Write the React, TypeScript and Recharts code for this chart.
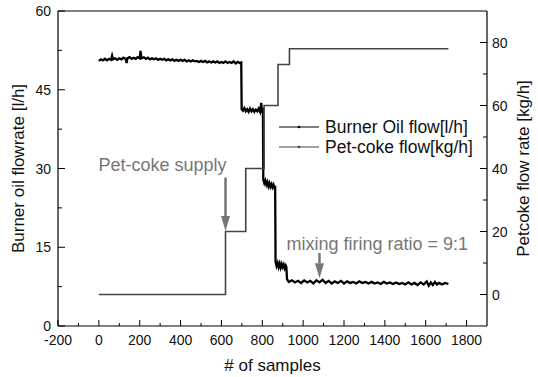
import React from 'react';
import { LineChart, Line, XAxis, YAxis, ReferenceLine, Legend, Label } from 'recharts';

const FONT = '"Liberation Sans", Arial, Helvetica, sans-serif';
const GRAY = '#767676';

// burner oil flow [l/h]: [sample, value]
const oilBase: [number, number][] = [
  [0, 50.5], [10, 50.8], [20, 50.6], [30, 50.9], [40, 50.6], [50, 50.9], [60, 50.7], [65, 51.5], [70, 50.8],
  [80, 51.0], [90, 50.7], [100, 51.0], [110, 50.8], [120, 51.1], [130, 50.9], [136, 50.1], [140, 51.0],
  [150, 51.2], [160, 50.9], [170, 51.1], [180, 50.9], [190, 51.2], [200, 51.0], [204, 52.4], [208, 51.0],
  [220, 51.2], [230, 50.9], [240, 51.1], [250, 50.8], [260, 51.0], [270, 50.8], [280, 51.0], [290, 50.7],
  [300, 50.9], [310, 50.7], [320, 50.9], [330, 50.6], [340, 50.8], [350, 50.6], [360, 50.8], [370, 50.5],
  [380, 50.7], [390, 50.5], [400, 50.7], [410, 50.5], [420, 50.7], [430, 50.4], [440, 50.6], [450, 50.4],
  [460, 50.6], [470, 50.4], [480, 50.5], [490, 50.3], [500, 50.5], [510, 50.3], [520, 50.5], [530, 50.2],
  [540, 50.4], [550, 50.2], [560, 50.4], [570, 50.2], [580, 50.4], [590, 50.1], [600, 50.3], [610, 50.1],
  [620, 50.4], [630, 50.1], [640, 50.3], [650, 50.1], [660, 50.4], [670, 50.0], [680, 50.3], [690, 50.1],
  [697, 50.2],
];
const oilStep1: [number, number][] = [
  [699, 41.3], [705, 41.0], [712, 41.5], [719, 40.9], [726, 41.3], [733, 40.8], [740, 41.4], [747, 40.9],
  [754, 41.3], [761, 40.8], [768, 41.2], [775, 40.9], [782, 41.4], [789, 40.8], [795, 42.5], [798, 41.0],
  [803, 41.2],
];
const oilStep2: [number, number][] = [
  [805, 27.9], [810, 27.2], [815, 27.7], [820, 26.9], [825, 27.4], [830, 26.6], [835, 27.2], [840, 26.5],
  [845, 27.0], [850, 26.4], [855, 26.9], [860, 26.3], [863, 26.7],
];
const oilStep3: [number, number][] = [
  [865, 12.2], [870, 11.4], [875, 12.0], [880, 11.2], [885, 11.9], [890, 11.1], [895, 11.8], [900, 11.2],
  [905, 11.7], [910, 11.0], [915, 11.5], [918, 11.2],
];
const oilMixed: [number, number][] = [
  [921, 8.9], [930, 8.4], [945, 8.7], [960, 8.3], [975, 8.6], [990, 8.2], [1005, 8.7], [1020, 8.3],
  [1035, 8.6], [1050, 8.1], [1065, 8.7], [1080, 8.3], [1095, 8.8], [1110, 8.2], [1125, 8.6], [1140, 8.1],
  [1155, 8.5], [1170, 8.2], [1185, 8.6], [1200, 8.1], [1215, 8.5], [1230, 8.2], [1245, 8.4], [1260, 8.1],
  [1275, 8.5], [1290, 8.2], [1305, 8.4], [1320, 8.1], [1335, 8.4], [1350, 8.1], [1365, 8.3], [1380, 8.0],
  [1395, 8.4], [1410, 8.1], [1425, 8.3], [1440, 8.0], [1455, 8.3], [1470, 8.0], [1485, 8.2], [1500, 7.9],
  [1515, 8.3], [1530, 7.9], [1545, 8.2], [1560, 7.8], [1575, 8.3], [1590, 7.9], [1605, 8.5], [1615, 7.7],
  [1625, 8.3], [1635, 7.8], [1645, 8.4], [1655, 7.9], [1665, 8.2], [1680, 7.9], [1695, 8.2], [1711, 8.0],
];

// pet-coke flow [kg/h] set points: [sample where the step starts, value]
const cokeSteps: [number, number][] = [
  [0, 0], [620, 20], [719, 40], [809, 60], [877, 73], [933, 78], [1711, 78],
];

const xTicks = [-200, -100, 0, 100, 200, 300, 400, 500, 600, 700, 800, 900, 1000, 1100, 1200, 1300, 1400, 1500, 1600, 1700, 1800];
const leftTicks = [0, 7.5, 15, 22.5, 30, 37.5, 45, 52.5, 60];
const rightTicks = [0, 10, 20, 30, 40, 50, 60, 70, 80];

const oilData = [...oilBase, ...oilStep1, ...oilStep2, ...oilStep3, ...oilMixed].map(([x, v]) => ({ x, oil: v }));
const cokeData = cokeSteps.map(([x, v]) => ({ x, coke: v }));

const tickText = { fontSize: 14, fill: '#111', fontFamily: FONT };

const BottomTick = (p: any) => {
  const v = p.payload.value;
  const major = v % 200 === 0;
  return (
    <g>
      <line x1={p.x} x2={p.x} y1={p.y} y2={p.y - (major ? 6 : 3)} stroke="#000" />
      {major && <text x={p.x} y={p.y + 19} textAnchor="middle" {...tickText}>{v}</text>}
    </g>
  );
};

const LeftTick = (p: any) => {
  const v = p.payload.value;
  const major = v % 15 === 0;
  return (
    <g>
      <line x1={p.x} x2={p.x + (major ? 7 : 4)} y1={p.y} y2={p.y} stroke="#000" />
      {major && <text x={p.x - 7} y={p.y + 5} textAnchor="end" {...tickText}>{v}</text>}
    </g>
  );
};

const RightTick = (p: any) => {
  const v = p.payload.value;
  const major = v % 20 === 0;
  return (
    <g>
      <line x1={p.x} x2={p.x - (major ? 7 : 4)} y1={p.y} y2={p.y} stroke="#000" />
      {major && <text x={p.x + 5} y={p.y + 5} textAnchor="start" {...tickText}>{v}</text>}
    </g>
  );
};

const arrow = (text: string, dx: number, dy: number) => (p: any) => {
  const { x1, y1, x2, y2 } = p;
  const head = 15;
  return (
    <g>
      <line x1={x1} y1={y1} x2={x2} y2={y2 - head} stroke={GRAY} strokeWidth={2.5} />
      <polygon points={`${x2 - 4.5},${y2 - head} ${x2 + 4.5},${y2 - head} ${x2},${y2}`} fill={GRAY} />
      <text x={x1 + dx} y={y1 + dy} fontSize={18} fill={GRAY} fontFamily={FONT}>{text}</text>
    </g>
  );
};

const LegendBox = (props: any) => (
  <div style={{ fontFamily: FONT, fontSize: 17.5, color: '#111' }}>
    {(props.payload || []).map((item: any) => (
      <div key={item.value} style={{ display: 'flex', alignItems: 'center', height: 20 }}>
        <svg width={46} height={20}>
          <line x1={0} x2={40} y1={10} y2={10} stroke={item.color} strokeWidth={1.2} />
          <circle cx={20} cy={10} r={1.3} fill={item.color} />
        </svg>
        <span style={{ whiteSpace: 'nowrap', lineHeight: '20px' }}>{item.value}</span>
      </div>
    ))}
  </div>
);

export default function App() {
  return (
    <div style={{ position: 'absolute', left: 0, top: 0, width: 538, height: 377, background: '#fff' }}>
      <LineChart width={538} height={377} margin={{ top: 11, right: 0, bottom: 0, left: 0 }}>
        <XAxis
          dataKey="x"
          type="number"
          domain={[-200, 1900]}
          ticks={xTicks}
          interval={0}
          allowDataOverflow
          height={51}
          tickSize={0}
          tickMargin={0}
          tick={BottomTick}
          axisLine={{ stroke: '#000', strokeWidth: 1.2 }}
        >
          <Label value="# of samples" position="insideBottom" offset={6} style={{ fontSize: 17, fill: '#111', fontFamily: FONT }} />
        </XAxis>
        <YAxis
          yAxisId="l"
          domain={[0, 60]}
          ticks={leftTicks}
          interval={0}
          width={58}
          tickSize={0}
          tickMargin={0}
          tick={LeftTick}
          axisLine={{ stroke: '#000', strokeWidth: 1.2 }}
        >
          <Label
            value="Burner oil flowrate [l/h]"
            angle={-90}
            position="insideLeft"
            offset={18}
            style={{ fontSize: 17, fill: '#111', fontFamily: FONT, textAnchor: 'middle' }}
          />
        </YAxis>
        <YAxis
          yAxisId="r"
          orientation="right"
          domain={[-10, 90]}
          ticks={rightTicks}
          interval={0}
          width={51}
          tickSize={0}
          tickMargin={0}
          tick={RightTick}
          axisLine={{ stroke: '#000', strokeWidth: 1.2 }}
        >
          <Label
            value="Petcoke flow rate [kg/h]"
            angle={-90}
            position="insideRight"
            offset={15}
            style={{ fontSize: 17, fill: '#111', fontFamily: FONT, textAnchor: 'middle' }}
          />
        </YAxis>
        <ReferenceLine yAxisId="l" y={60} stroke="#000" strokeWidth={1.2} />
        <ReferenceLine
          yAxisId="l"
          segment={[{ x: 620, y: 28.3 }, { x: 620, y: 18.1 }]}
          shape={arrow('Pet-coke supply', -127, -6)}
        />
        <ReferenceLine
          yAxisId="l"
          segment={[{ x: 1080, y: 13.9 }, { x: 1080, y: 9.1 }]}
          shape={arrow('mixing firing ratio = 9:1', -33, -3)}
        />
        <Line
          data={oilData}
          dataKey="oil"
          name="Burner Oil flow[l/h]"
          yAxisId="l"
          type="linear"
          stroke="#000"
          strokeWidth={2.3}
          dot={false}
          isAnimationActive={false}
        />
        <Line
          data={cokeData}
          dataKey="coke"
          name="Pet-coke flow[kg/h]"
          yAxisId="r"
          type="stepAfter"
          stroke="#444"
          strokeWidth={1.6}
          dot={false}
          isAnimationActive={false}
        />
        <Legend
          layout="horizontal"
          verticalAlign="middle"
          align="center"
          wrapperStyle={{ left: 279, top: 117, width: 220 }}
          content={LegendBox}
        />
      </LineChart>
    </div>
  );
}
